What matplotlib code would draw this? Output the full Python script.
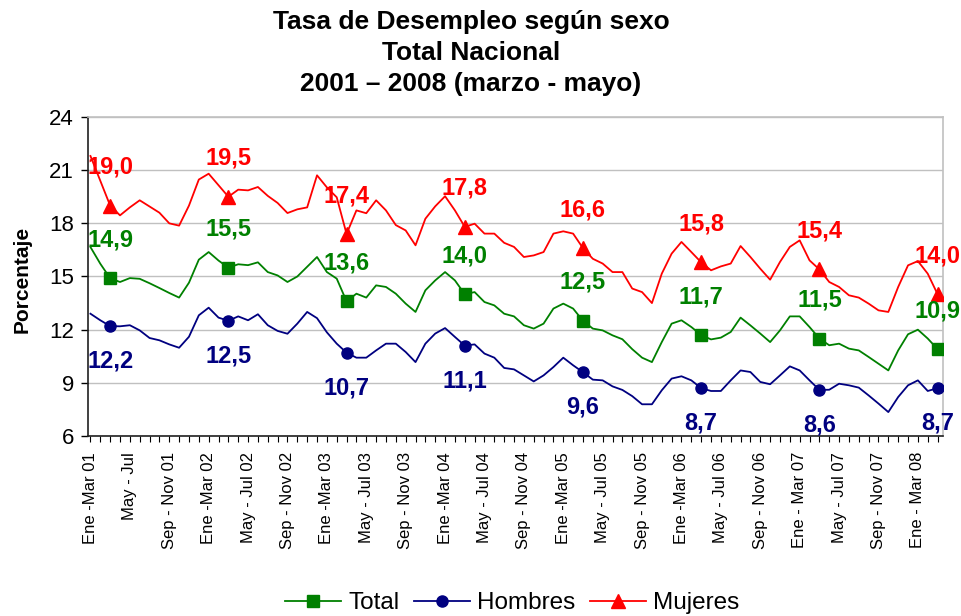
import matplotlib
matplotlib.use('Agg')
import matplotlib.pyplot as plt
from matplotlib.lines import Line2D
from matplotlib.ticker import FixedLocator, FixedFormatter

plt.rcParams['font.family'] = ['Liberation Sans', 'DejaVu Sans']

# ---- data (rolling quarters Ene-Mar 01 ... Mar-May 08) ----
tick_labels = ["Ene -Mar 01", "May - Jul", "Sep - Nov 01", "Ene -Mar 02", "May - Jul 02",
               "Sep - Nov 02", "Ene -Mar 03", "May - Jul 03", "Sep - Nov 03", "Ene -Mar 04",
               "May - Jul 04", "Sep - Nov 04", "Ene -Mar 05", "May - Jul 05", "Sep - Nov 05",
               "Ene -Mar 06", "May - Jul 06", "Sep - Nov 06", "Ene - Mar 07", "May - Jul 07",
               "Sep - Nov 07", "Ene - Mar 08"]

mujeres = [21.8, 20.4, 19.0, 18.45, 18.9, 19.3, 18.95, 18.6, 18.0, 17.87,
           19.0, 20.47, 20.8, 20.15, 19.5, 19.9, 19.86, 20.05, 19.55, 19.15,
           18.58, 18.79, 18.9, 20.71, 20.03, 19.47, 17.4, 18.73, 18.57, 19.3,
           18.73, 17.9, 17.6, 16.76, 18.26, 18.96, 19.53, 18.73, 17.8, 17.98,
           17.42, 17.42, 16.9, 16.67, 16.1, 16.19, 16.38, 17.42, 17.55, 17.42,
           16.6, 16.0, 15.73, 15.25, 15.25, 14.32, 14.12, 13.5, 15.16, 16.29,
           16.95, 16.38, 15.8, 15.35, 15.57, 15.73, 16.72, 16.1, 15.44, 14.82,
           15.82, 16.67, 17.04, 15.91, 15.4, 14.69, 14.41, 13.94, 13.81, 13.47,
           13.09, 13.0, 14.41, 15.63, 15.87, 15.16, 14.0]

total = [16.66, 15.72, 14.9, 14.69, 14.91, 14.87, 14.62, 14.35, 14.07, 13.81,
         14.65, 15.95, 16.38, 15.9, 15.5, 15.69, 15.64, 15.8, 15.25, 15.06,
         14.69, 15.0, 15.55, 16.1, 15.25, 14.88, 13.6, 14.03, 13.81, 14.5,
         14.41, 14.03, 13.47, 13.0, 14.22, 14.78, 15.25, 14.78, 14.0, 14.12,
         13.56, 13.37, 12.9, 12.75, 12.25, 12.06, 12.34, 13.19, 13.47, 13.19,
         12.5, 12.06, 11.96, 11.68, 11.46, 10.9, 10.42, 10.17, 11.3, 12.34,
         12.53, 12.15, 11.7, 11.45, 11.55, 11.87, 12.68, 12.24, 11.78, 11.3,
         11.96, 12.75, 12.75, 12.15, 11.5, 11.12, 11.21, 10.93, 10.83, 10.46,
         10.08, 9.7, 10.83, 11.74, 12.0, 11.5, 10.9]

hombres = [12.9, 12.53, 12.2, 12.19, 12.25, 11.96, 11.53, 11.4, 11.17, 10.98,
           11.6, 12.81, 13.24, 12.68, 12.5, 12.75, 12.53, 12.87, 12.25, 11.93,
           11.77, 12.34, 13.0, 12.65, 11.85, 11.21, 10.7, 10.42, 10.42, 10.83,
           11.21, 11.21, 10.74, 10.17, 11.21, 11.78, 12.09, 11.59, 11.1, 11.17,
           10.65, 10.42, 9.84, 9.76, 9.42, 9.08, 9.42, 9.89, 10.42, 9.99,
           9.6, 9.18, 9.14, 8.8, 8.6, 8.25, 7.79, 7.79, 8.58, 9.24,
           9.37, 9.14, 8.7, 8.54, 8.54, 9.14, 9.7, 9.61, 9.05, 8.92,
           9.42, 9.93, 9.7, 9.14, 8.6, 8.61, 8.95, 8.86, 8.73, 8.29,
           7.83, 7.35, 8.2, 8.86, 9.14, 8.54, 8.7]

label_idx = [2, 14, 26, 38, 50, 62, 74, 86]   # Mar-May of each year
tick_idx = list(range(0, 85, 4))

C_TOT = '#008000'
C_HOM = '#000080'
C_MUJ = '#FF0000'

fig = plt.figure(figsize=(9.61, 6.16), dpi=100)
ax = fig.add_axes([88 / 961, 1 - 436 / 616, (943 - 88) / 961, (436 - 117) / 616])

x = list(range(len(total)))
ax.plot(x, total, color=C_TOT, lw=1.3, marker='s', ms=8.5, markevery=label_idx, zorder=3)
ax.plot(x, hombres, color=C_HOM, lw=1.3, marker='o', ms=8, markevery=label_idx, zorder=3)
ax.plot(x, mujeres, color=C_MUJ, lw=1.3, marker='^', ms=10, markevery=label_idx, zorder=3)

def fmt(v):
    return f"{v:.1f}".replace('.', ',')

for i in label_idx:
    ax.annotate(fmt(mujeres[i]), (i, mujeres[i]), xytext=(0, 23), textcoords='offset points',
                ha='center', va='baseline', fontsize=17, fontweight='bold', color=C_MUJ,
                annotation_clip=False, zorder=4)
    ax.annotate(fmt(total[i]), (i, total[i]), xytext=(0, 23), textcoords='offset points',
                ha='center', va='baseline', fontsize=17, fontweight='bold', color=C_TOT,
                annotation_clip=False, zorder=4)
    ax.annotate(fmt(hombres[i]), (i, hombres[i]), xytext=(0, -30), textcoords='offset points',
                ha='center', va='baseline', fontsize=17, fontweight='bold', color=C_HOM,
                annotation_clip=False, zorder=4)

ax.set_xlim(-0.25, 86.55)
ax.set_ylim(6, 24)
ax.set_yticks([6, 9, 12, 15, 18, 21, 24])
ax.set_yticklabels(['6', '9', '12', '15', '18', '21', '24'], fontsize=16)
ax.tick_params(axis='y', direction='out', length=5, width=1, pad=5, color='black')

ax.xaxis.set_major_locator(FixedLocator(tick_idx))
ax.xaxis.set_major_formatter(FixedFormatter(tick_labels))
ax.xaxis.set_minor_locator(FixedLocator(x))
ax.tick_params(axis='x', which='both', direction='out', length=4.5, width=0.8, color='black')
ax.tick_params(axis='x', which='major', pad=7)
for lbl in ax.get_xticklabels():
    lbl.set_rotation(90)
    lbl.set_fontsize(12)
    lbl.set_va('top')
    lbl.set_ha('center')

ax.yaxis.grid(True, color='#c0c0c0', lw=1)
ax.set_axisbelow(True)
for s in ['top', 'right']:
    ax.spines[s].set_color('#c0c0c0')
    ax.spines[s].set_linewidth(1.2)
for s in ['left', 'bottom']:
    ax.spines[s].set_color('#202020')
    ax.spines[s].set_linewidth(1.2)

fig.text(22 / 961, 1 - 279 / 616, 'Porcentaje', rotation=90, fontsize=15, fontweight='bold',
         ha='center', va='center')

titles = ["Tasa de Desempleo según sexo", "Total Nacional", "2001 \u2013 2008 (marzo - mayo)"]
for k, t in enumerate(titles):
    fig.text(471 / 961, 1 - (29 + 31 * k) / 616, t, fontsize=19, fontweight='bold',
             ha='center', va='baseline')

handles = [Line2D([], [], color=C_TOT, lw=1.3, marker='s', ms=8.5),
           Line2D([], [], color=C_HOM, lw=1.3, marker='o', ms=8),
           Line2D([], [], color=C_MUJ, lw=1.3, marker='^', ms=10)]
fig.legend(handles, ['Total', 'Hombres', 'Mujeres'], loc='center', ncol=3,
           bbox_to_anchor=(512 / 961, 1 - 603 / 616), frameon=False, fontsize=17.5,
           handlelength=2.3, handletextpad=0.3, columnspacing=0.6, borderpad=0)

fig.savefig('out.png', dpi=100)
